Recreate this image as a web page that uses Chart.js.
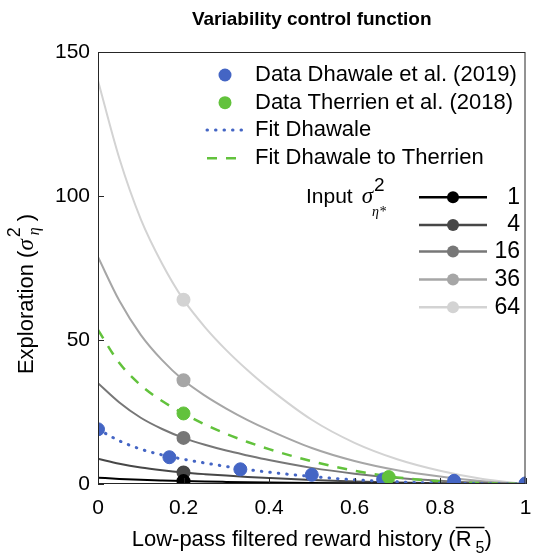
<!DOCTYPE html>
<html><head><meta charset="utf-8">
<script src="https://cdn.jsdelivr.net/npm/chart.js@4.4.0/dist/chart.umd.min.js"></script>
<style>html,body{margin:0;padding:0;background:#fff}#wrap{width:533px;height:559px}</style>
</head><body><div id="wrap"><canvas id="c" width="533" height="559"></canvas></div>
<script>
// ---- data ----
const curveX = [0, 0.05, 0.1, 0.15, 0.2, 0.25, 0.3, 0.35, 0.4, 0.5, 0.6, 0.7, 0.8, 0.9, 1];
const input64 = [140, 113, 92, 76.5, 64, 54.5, 46.5, 39.5, 33.2, 22.3, 14.3, 8.6, 4.6, 1.7, 0];
const input36 = [78.8, 63.6, 51.8, 43, 36, 30.7, 26.2, 22.2, 18.7, 12.5, 8.0, 4.8, 2.6, 0.96, 0];
const input16 = [35, 28.3, 23, 19.1, 16, 13.6, 11.6, 9.9, 8.3, 5.6, 3.6, 2.1, 1.15, 0.43, 0];
const input4 = [8.75, 7.06, 5.75, 4.78, 4, 3.41, 2.91, 2.47, 2.08, 1.39, 0.89, 0.54, 0.29, 0.11, 0];
const input1 = [2.19, 1.77, 1.44, 1.2, 1, 0.85, 0.73, 0.62, 0.52, 0.35, 0.22, 0.13, 0.07, 0.03, 0];
const fitDhawale = [19, 15, 12.1, 10.1, 8.6, 7.3, 6.1, 5.0, 4.1, 2.6, 1.45, 0.75, 0.33, 0.1, 0];
const fitTherrien = [53.5, 42, 34.3, 28.8, 24.5, 20.7, 17.4, 14.6, 12.1, 7.9, 4.6, 2.3, 0.95, 0.3, 0];
const dhawaleX = [0, 0.167, 0.333, 0.5, 0.667, 0.833, 1];
const dhawaleY = [19, 9.3, 5.1, 3.2, 1.6, 1.1, 0.2];
const therrienX = [0.2, 0.68];
const therrienY = [24.5, 2.4];
const inputLabels = ['1', '4', '16', '36', '64'];
const markerX = 0.2;
const xTickValues = [0, 0.2, 0.4, 0.6, 0.8, 1];
const xTickLabels = ['0', '0.2', '0.4', '0.6', '0.8', '1'];
const yTickValues = [0, 50, 100, 150];
const yTickLabels = ['0', '50', '100', '150'];
const legendLabels = ['Data Dhawale et al. (2019)', 'Data Therrien et al. (2018)', 'Fit Dhawale', 'Fit Dhawale to Therrien'];

// ---- styles ----
const FONT = '"Liberation Sans", Arial, sans-serif';
const BLUE = '#4465c4', GREEN = '#62c23c';
const GRAYS = ['#000000', '#474747', '#777777', '#a6a6a6', '#d3d3d3'];
const inputSeries = [input1, input4, input16, input36, input64];
const pts = (xa, ya) => xa.map((x, i) => ({x: x, y: ya[i]}));

const datasets = [];
inputSeries.forEach((arr, i) => {
  datasets.push({
    data: pts(curveX, arr), showLine: true, borderColor: GRAYS[i], backgroundColor: GRAYS[i],
    borderWidth: 2, cubicInterpolationMode: 'monotone',
    pointRadius: c => (c.raw && c.raw.x === markerX) ? 6 : 0, pointHoverRadius: 0, order: 10 + i
  });
});
datasets.push({data: pts(curveX, fitTherrien), showLine: true, borderColor: GREEN, borderWidth: 2.5,
  borderDash: [10, 9], cubicInterpolationMode: 'monotone', pointRadius: 0, order: 5});
datasets.push({data: pts(curveX, fitDhawale), showLine: true, borderColor: BLUE, borderWidth: 3,
  borderDash: [0.5, 8], borderCapStyle: 'round', cubicInterpolationMode: 'monotone', pointRadius: 0, order: 4});
datasets.push({data: pts(dhawaleX, dhawaleY), showLine: false, backgroundColor: BLUE, borderColor: BLUE,
  pointRadius: 6.5, order: 2});
datasets.push({data: pts(therrienX, therrienY), showLine: false, backgroundColor: GREEN, borderColor: GREEN,
  pointRadius: 6.5, order: 1});

function seq(ctx, x, y, parts) {
  // parts: [text, font, dy, dx, noAdvance]
  parts.forEach(p => {
    ctx.font = p[1];
    ctx.fillText(p[0], x + (p[3] || 0), y + (p[2] || 0));
    if (!p[4]) x += ctx.measureText(p[0]).width + (p[3] || 0);
  });
  return x;
}

const decor = {
  id: 'decor',
  afterDraw(chart) {
    const ctx = chart.ctx, a = chart.chartArea;
    const xs = chart.scales.x, ys = chart.scales.y;
    ctx.save();
    // box
    ctx.strokeStyle = '#262626'; ctx.lineWidth = 1;
    ctx.strokeRect(a.left + 0.5, a.top + 0.5, a.right - a.left - 1, a.bottom - a.top - 1);
    // inward ticks
    ctx.beginPath();
    xs.ticks.forEach(t => { const p = Math.round(xs.getPixelForValue(t.value)) + 0.5; ctx.moveTo(p, a.bottom); ctx.lineTo(p, a.bottom - 6); });
    ys.ticks.forEach(t => { const p = Math.round(ys.getPixelForValue(t.value)) + 0.5; ctx.moveTo(a.left, p); ctx.lineTo(a.left + 6, p); });
    ctx.stroke();
    ctx.fillStyle = '#000';
    // title
    ctx.font = 'bold 19px ' + FONT; ctx.textAlign = 'center'; ctx.textBaseline = 'middle';
    ctx.fillText('Variability control function', (a.left + a.right) / 2, 20);
    // x title
    ctx.textAlign = 'left'; ctx.textBaseline = 'middle';
    const F = '22px ' + FONT;
    const F21 = '21px ' + FONT;
    ctx.font = F;
    const main = 'Low-pass filtered reward history (';
    const wMain = ctx.measureText(main).width, wR = ctx.measureText('R').width;
    ctx.font = '16px ' + FONT; const w5 = ctx.measureText('5').width;
    ctx.font = F; const wP = ctx.measureText(')').width;
    let x0 = (a.left + a.right) / 2 - (wMain + wR + w5 + 4 + wP) / 2;
    let xx = seq(ctx, x0, 540, [[main, F]]);
    const rx = xx;
    xx = seq(ctx, xx, 540, [['R', F], ['5', '16px ' + FONT, 9, 4], [')', F]]);
    ctx.beginPath(); ctx.lineWidth = 1.5; ctx.strokeStyle = '#000';
    ctx.moveTo(rx, 527.5); ctx.lineTo(rx + wR + w5 + 4, 527.5); ctx.stroke();
    // y title
    ctx.save();
    ctx.translate(27, 294); ctx.rotate(-Math.PI / 2);
    ctx.font = F;
    const sF = 'italic 23px "Liberation Serif", serif';
    const yMain = 'Exploration (';
    const wy = ctx.measureText(yMain).width;
    ctx.font = sF; const ws = ctx.measureText('σ').width;
    ctx.font = F; const wq = ctx.measureText(')').width;
    const total = wy + ws + 18 + wq;
    let yx = -total / 2;
    yx = seq(ctx, yx, 0, [[yMain, F], ['σ', sF]]);
    seq(ctx, yx + 2, 0, [['2', '18px ' + FONT, -12, 0, true]]);
    seq(ctx, yx + 4, 0, [['η', 'italic 16px "Liberation Serif", serif', 8, 0, true]]);
    seq(ctx, yx + 18, 0, [[')', F]]);
    ctx.restore();
    // top legend
    const rows = [75, 102.7, 130, 158.3];
    ctx.font = F; ctx.textAlign = 'left'; ctx.textBaseline = 'middle';
    legendLabels.forEach((t, i) => ctx.fillText(t, 255, rows[i]));
    ctx.fillStyle = BLUE; ctx.beginPath(); ctx.arc(225, rows[0], 6.5, 0, Math.PI * 2); ctx.fill();
    ctx.fillStyle = GREEN; ctx.beginPath(); ctx.arc(225, rows[1], 6.5, 0, Math.PI * 2); ctx.fill();
    ctx.lineWidth = 3; ctx.lineCap = 'round'; ctx.strokeStyle = BLUE; ctx.setLineDash([0.5, 8]);
    ctx.beginPath(); ctx.moveTo(207, rows[2]); ctx.lineTo(244, rows[2]); ctx.stroke();
    ctx.lineCap = 'butt'; ctx.lineWidth = 2.5; ctx.strokeStyle = GREEN; ctx.setLineDash([10, 9]);
    ctx.beginPath(); ctx.moveTo(207, rows[3]); ctx.lineTo(244, rows[3]); ctx.stroke();
    ctx.setLineDash([]);
    // input legend
    ctx.fillStyle = '#000';
    let ix = seq(ctx, 306, 197, [['Input', F21]]);
    ix = seq(ctx, ix + 9, 197, [['σ', sF]]);
    seq(ctx, ix + 1, 197, [['2', '19px ' + FONT, -11, 0, true]]);
    seq(ctx, ix - 1, 197, [['η*', 'italic 14px "Liberation Serif", serif', 15, 0, true]]);
    const irows = [197.3, 225, 251.5, 279.5, 307.3];
    inputLabels.forEach((t, i) => {
      ctx.strokeStyle = GRAYS[i]; ctx.fillStyle = GRAYS[i]; ctx.lineWidth = 2.5;
      ctx.beginPath(); ctx.moveTo(419, irows[i]); ctx.lineTo(487, irows[i]); ctx.stroke();
      ctx.beginPath(); ctx.arc(453, irows[i], 6, 0, Math.PI * 2); ctx.fill();
      ctx.fillStyle = '#000'; ctx.font = '23px ' + FONT; ctx.textAlign = 'right';
      ctx.fillText(t, 520, irows[i]);
      ctx.textAlign = 'left';
    });
    ctx.restore();
  }
};

new Chart(document.getElementById('c'), {
  type: 'scatter',
  data: {datasets: datasets},
  options: {
    responsive: false, animation: false, devicePixelRatio: 1,
    layout: {padding: {left: 0, right: 2, top: 52, bottom: 0}},
    plugins: {legend: {display: false}, tooltip: {enabled: false}, title: {display: false}},
    scales: {
      x: {type: 'linear', min: 0, max: 1,
        afterBuildTicks: s => { s.ticks = xTickValues.map(v => ({value: v})); },
        afterFit: s => { s.height = 75; s.paddingLeft = 0; s.paddingRight = 0; },
        ticks: {callback: (v, i) => xTickLabels[i], font: {family: FONT, size: 21}, color: '#000', padding: 12, maxRotation: 0},
        grid: {display: false, drawTicks: false}, border: {display: false}},
      y: {min: 0, max: 150,
        afterBuildTicks: s => { s.ticks = yTickValues.map(v => ({value: v})); },
        afterFit: s => { s.width = 98; s.paddingTop = 0; s.paddingBottom = 0; },
        ticks: {callback: (v, i) => yTickLabels[i], font: {family: FONT, size: 21}, color: '#000', padding: 8},
        grid: {display: false, drawTicks: false}, border: {display: false}}
    }
  },
  plugins: [decor]
});
</script>
</body></html>
